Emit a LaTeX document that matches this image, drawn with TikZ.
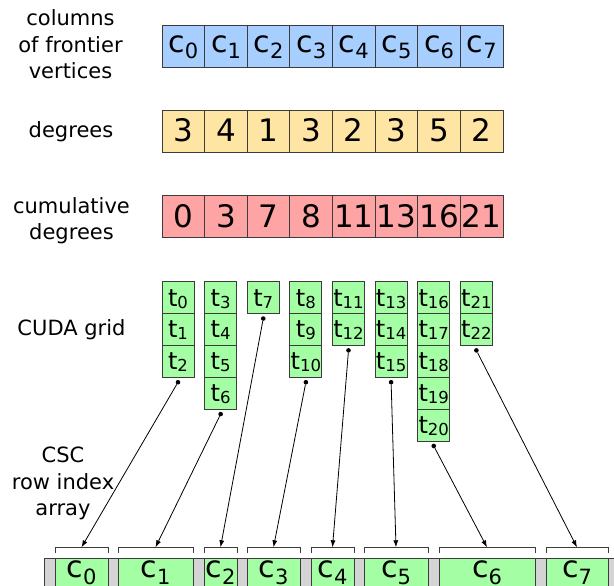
\documentclass[tikz,border=0pt]{standalone}
\usepackage{fontspec}
\setmainfont{DejaVu Sans}
\usetikzlibrary{arrows.meta}
\definecolor{cblue}{RGB}{166,207,255}
\definecolor{cyell}{RGB}{255,229,164}
\definecolor{cred}{RGB}{255,164,164}
\definecolor{cgreen}{RGB}{164,255,164}
\definecolor{cgray}{RGB}{212,212,212}
\definecolor{cline}{RGB}{60,60,60}
\newcommand{\csub}[2]{#1\raisebox{-6.5pt}{\fontsize{21}{21}\selectfont #2}}
\newcommand{\tsub}[2]{#1\raisebox{-2pt}{\fontsize{16.5}{16.5}\selectfont #2}}
\begin{document}
\begin{tikzpicture}[x=1pt,y=-1pt,
  cellbox/.style={draw=cline, line width=0.9pt, inner sep=0pt, minimum width=42.625pt, minimum height=42pt},
  cfont/.style={font=\fontsize{30}{30}\selectfont, text height=14pt, text depth=2.4pt},
  dfont/.style={font=\fontsize{31}{31}\selectfont, text height=22pt, text depth=1.4pt},
  tbox/.style={draw=cline, line width=0.9pt, inner sep=0pt, minimum width=32pt, minimum height=31.85pt, fill=cgreen,
     font=\fontsize{24}{24}\selectfont, text height=17pt, text depth=0.2pt},
  lab/.style={font=\fontsize{21}{26.5}\selectfont, align=center, inner sep=0pt},
  dot/.style={circle, fill=black, inner sep=0pt, minimum size=4.6pt},
  arr/.style={-{Latex[length=7pt,width=5pt]}, line width=0.8pt},
  brk/.style={line width=0.9pt, draw=cline},
  bcell/.style={draw=cline, line width=0.9pt, fill=cgreen, inner sep=0pt, minimum height=42pt,
     font=\fontsize{30}{30}\selectfont, text height=8pt, text depth=11pt}]
\useasboundingbox (0,0) rectangle (614,586);

% labels
\node[lab] (l1) at (70.5,44.2) {columns\\of frontier\\vertices};
\node[lab, anchor=base] (l2) at (71,137.2) {degrees};
\node[lab] (l3) at (71.5,220.5) {cumulative\\degrees};
\node[lab, anchor=base] (l4) at (71.5,335) {CUDA grid};
\node[lab] (l5) at (63,483.8) {CSC\\row index\\array};

% top arrays and CUDA grid
\foreach \i/\d/\s/\n in {0/3/0/3,1/4/3/4,2/1/7/1,3/3/8/3,4/2/11/2,5/3/13/3,6/5/16/5,7/2/21/2}{
  \pgfmathsetmacro\cx{162+42.625*\i+21.3125}
  \node[cellbox, cfont, fill=cblue] (c\i) at (\cx,46.5) {\csub{c}{\i}};
  \node[cellbox, dfont, fill=cyell] (d\i) at (\cx,131.5) {\d};
  \node[cellbox, dfont, fill=cred] (s\i) at (\cx,216.7) {\s};
  \pgfmathsetmacro\tx{162+42.625*\i+16}
  \foreach \j in {1,...,\n}{
    \pgfmathtruncatemacro\k{\s+\j-1}
    \node[tbox] (t\k) at (\tx,{281.7+31.85*(\j-1)+15.925}) {\tsub{t}{\k}};
  }
  \node[dot] (p\i) at (\tx,{281.7+31.85*\n+5}) {};
}

% CSC row index array
\draw[draw=cline, line width=0.9pt, fill=cgray] (44,558) rectangle (640,620);
\foreach \i/\l/\r in {0/55/108,1/118/193,2/204/237,3/247/300,4/311/354,5/364/428,6/439/535,7/546/608}{
  \pgfmathsetmacro\w{\r-\l}
  \pgfmathsetmacro\m{(\l+\r)/2}
  \node[bcell, minimum width=\w pt] (r\i) at (\m,579) {\csub{c}{\i}};
  \coordinate (b\i) at (\m,547.3);
  \draw[brk] (\l,552.7) -- (\l,547.3) -- (\r,547.3) -- (\r,552.7);
  \draw[arr] (p\i) -- (b\i);
}
\end{tikzpicture}
\end{document}
